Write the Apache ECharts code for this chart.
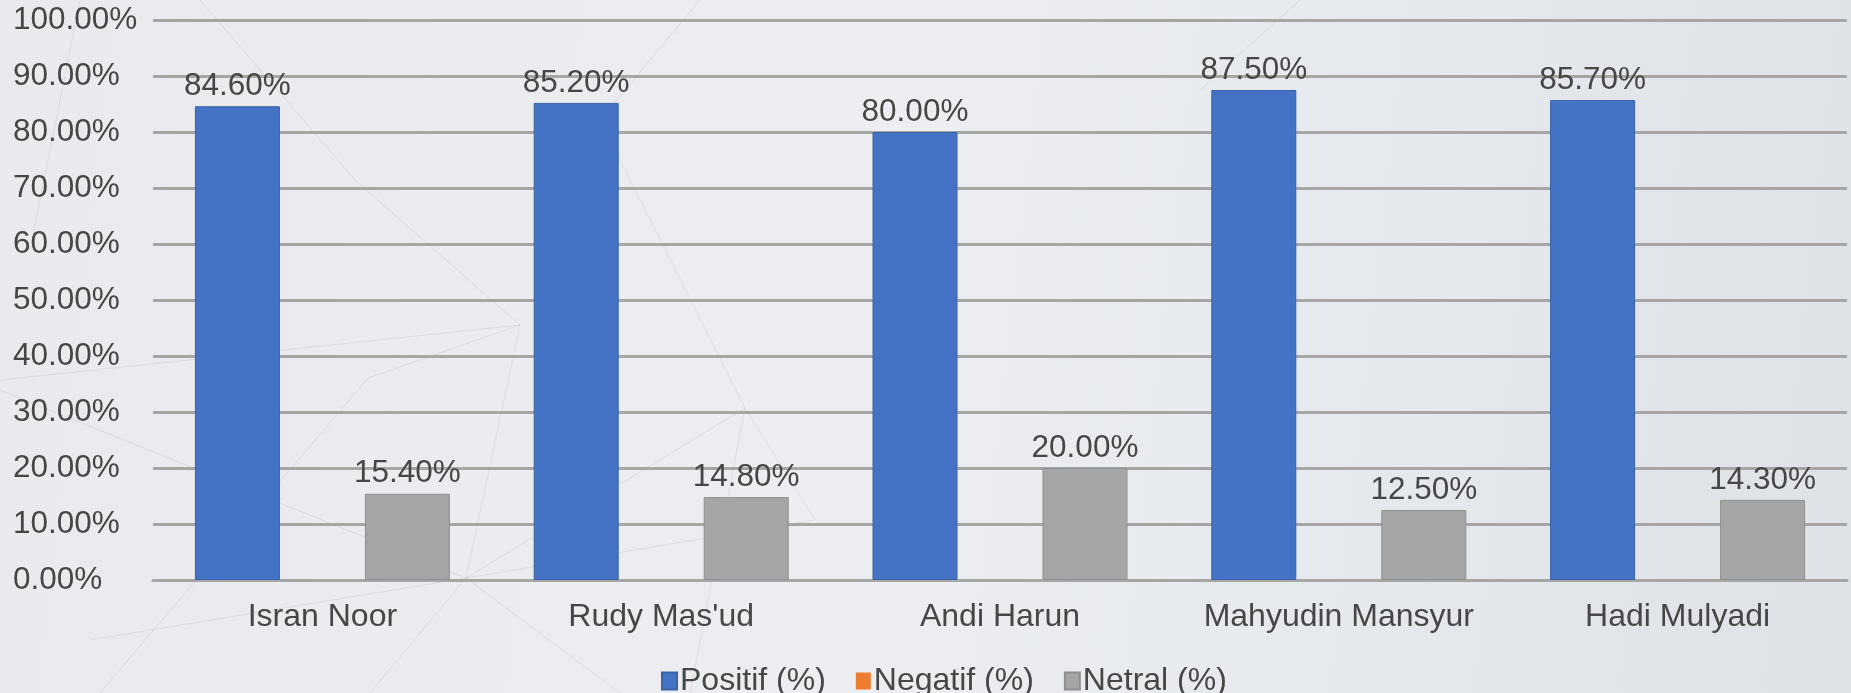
<!DOCTYPE html>
<html>
<head>
<meta charset="utf-8">
<script src="https://cdn.jsdelivr.net/npm/echarts@6/dist/echarts.min.js"></script>
<style>
html,body{margin:0;padding:0;}
#c{width:1851px;height:693px;}
</style>
</head>
<body>
<div id="c"></div>
<script>
var categories = ["Isran Noor", "Rudy Mas'ud", "Andi Harun", "Mahyudin Mansyur", "Hadi Mulyadi"];
var positif = [84.6, 85.2, 80.0, 87.5, 85.7];
var negatif = [0, 0, 0, 0, 0];
var netral = [15.4, 14.8, 20.0, 12.5, 14.3];
var seriesNames = ["Positif (%)", "Negatif (%)", "Netral (%)"];

var FONT = '"Liberation Sans", Arial, sans-serif';
var TXT = '#464646';
var chart = echarts.init(document.getElementById('c'));
function pct(v){ return v.toFixed(2) + '%'; }
function barSeries(name, data, color, border, bw, showLabel){
  return {
    name: name, type: 'bar', data: data, barWidth: 85, barGap: '0%',
    itemStyle: { color: color, borderColor: border, borderWidth: bw },
    label: { show: showLabel, position: 'top', distance: 4, color: TXT,
      fontFamily: FONT, fontSize: 31.5, formatter: function(p){ return pct(p.value); } }
  };
}
// faint decorative network lines in the background
var netLines = [
  [466,578,520,325],[466,578,745,408],[466,578,370,693],[466,578,620,693],
  [466,578,815,520],[466,578,0,390],[466,578,90,640],[520,325,368,378],
  [520,325,0,380],[745,408,815,520],[745,408,690,693],[368,378,100,693],
  [200,0,355,180],[355,180,520,325],[700,0,600,120],[600,120,745,408],
  [1300,0,1200,90],[80,0,30,250]
];
var graphics = netLines.map(function(l){
  return { type: 'line', z: -1, silent: true,
    shape: { x1: l[0], y1: l[1], x2: l[2], y2: l[3] },
    style: { stroke: 'rgba(110,115,125,0.12)', lineWidth: 1 } };
});
chart.setOption({
  backgroundColor: {
    type: 'linear', x: 0, y: 0, x2: 1, y2: 0.3,
    colorStops: [
      { offset: 0, color: '#e8eaed' },
      { offset: 0.5, color: '#eceef1' },
      { offset: 1, color: '#dfe3e8' }
    ]
  },
  animation: false,
  graphic: graphics,
  textStyle: { fontFamily: FONT },
  grid: { left: 153, right: 4, top: 20, bottom: 113 },
  legend: {
    left: 656, top: 660, itemWidth: 15, itemHeight: 17, itemGap: 30,
    icon: 'rect',
    textStyle: { fontFamily: FONT, fontSize: 32, color: TXT, padding: [0,0,0,-2] },
    data: seriesNames
  },
  xAxis: {
    type: 'category', data: categories,
    axisLine: { show: true, lineStyle: { color: '#a6a6a6', width: 3 } },
    axisTick: { show: false },
    axisLabel: { color: TXT, fontFamily: FONT, fontSize: 32, margin: 21, interval: 0 }
  },
  yAxis: {
    type: 'value', min: 0, max: 100, interval: 10,
    axisLine: { show: false }, axisTick: { show: false },
    splitLine: { lineStyle: { color: '#a6a6a6', width: 3 } },
    axisLabel: { color: TXT, fontFamily: FONT, fontSize: 31.5, align: 'left', margin: 140,
      formatter: function(v){ return pct(v); } }
  },
  series: [
    barSeries(seriesNames[0], positif, '#4472c4', '#3a62a8', 1, true),
    barSeries(seriesNames[1], negatif, '#ed7d31', '#ed7d31', 0, false),
    barSeries(seriesNames[2], netral, '#a5a5a5', '#8f8f8f', 1, true)
  ]
});
</script>
</body>
</html>
